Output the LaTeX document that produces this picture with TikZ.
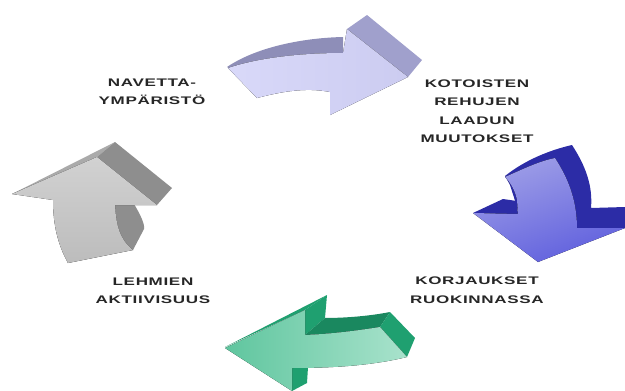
\documentclass[tikz,border=0pt]{standalone}
\usepackage{fontspec}
\newfontfamily\cyclefont{Liberation Sans}[FakeStretch=1.55,LetterSpace=6]
\definecolor{lilaface}{HTML}{D2D2F8}
\definecolor{lilaband}{HTML}{8E8EB8}
\definecolor{lilaside}{HTML}{A0A0CC}
\definecolor{blueface}{HTML}{6A6ADA}
\definecolor{bluedark}{HTML}{2C2CA6}
\definecolor{greenface}{HTML}{6FCFAA}
\definecolor{greendark}{HTML}{1FA070}
\definecolor{greyface}{HTML}{C6C6C6}
\definecolor{greydark}{HTML}{8E8E8E}

\begin{document}
\begin{tikzpicture}[x=1pt,y=-1pt, every node/.style={font=\cyclefont\bfseries\fontsize{11}{18.5}\selectfont, align=center, text=black!85}]
\useasboundingbox (0,0) rectangle (625,391);
% top arrow
\fill[lilaband] (227,67) .. controls (255,48) and (300,38) .. (343,37) -- (343,53) .. controls (300,53) and (258,58) .. (229,68) -- cycle;
\fill[lilaside] (347,29) -- (367,15) -- (422,60) -- (408,77) -- cycle;
\fill[left color=lilaface!85!white, right color=lilaface!97!black] (228,68) .. controls (258,58) and (300,53) .. (343,53) -- (347,29) -- (408,77) -- (330,115) -- (330,92) .. controls (305,87) and (280,92) .. (257,98) -- cycle;
% right arrow
\fill[bluedark] (505,176) .. controls (525,160) and (550,150) .. (572,145) .. controls (585,165) and (593,185) .. (591,208) -- (625,207) -- (625,228) -- (540,240) -- (518,210) -- (510,185) -- cycle;
\fill[bluedark] (473,213) -- (503,199) -- (517,201) -- (518,215) -- cycle;
\fill[top color=blueface!65!white, bottom color=blueface!90!blue, shading angle=20] (505,177) .. controls (525,168) and (540,161) .. (555,158) .. controls (568,178) and (577,200) .. (577,228) -- (625,228) -- (538,262) -- (473,213) -- (518,214) -- (517,200) .. controls (515,190) and (510,182) .. (505,177) -- cycle;
% bottom arrow
\fill[greendark] (225,347) -- (327,295) -- (305,310) -- cycle;
\fill[greendark] (305,310) -- (327,295) -- (325,318) -- (305,335) -- cycle;
\fill[greendark!85!black] (305,335) -- (325,318) .. controls (345,318) and (370,316) .. (390,312) -- (380,327) .. controls (355,331) and (330,334) .. (305,335) -- cycle;
\fill[greendark] (390,312) -- (415,338) -- (407,357) -- (380,327) -- cycle;
\fill[greendark] (292,368) -- (308,367) -- (307,383) -- (292,391) -- cycle;
\fill[left color=greenface!80!greendark, right color=greenface!60!white] (225,348) -- (305,310) -- (305,335) .. controls (330,334) and (355,331) .. (380,327) -- (407,357) .. controls (370,366) and (330,368) .. (292,368) -- (292,391) -- cycle;
% left arrow
\fill[greydark!75!white] (12,194) -- (115,142) -- (97,157) -- cycle;
\fill[greydark] (115,142) -- (172,188) -- (157,205) -- (97,157) -- cycle;
\fill[greydark] (115,205) -- (134,204) .. controls (140,214) and (145,224) .. (144,229) -- (133,250) .. controls (120,240) and (116,225) .. (115,205) -- cycle;
\fill[top color=greyface!80!white, bottom color=greyface!95!black] (12,194) -- (97,157) -- (157,205) -- (115,205) .. controls (116,225) and (120,240) .. (133,250) -- (68,263) .. controls (58,245) and (53,225) .. (53,200) -- cycle;
% labels
\node (navetta) at (152,92) {NAVETTA-\\YMPÄRISTÖ};
\node (rehut) at (477,111) {KOTOISTEN\\REHUJEN\\LAADUN\\MUUTOKSET};
\node (ruokinta) at (477,290) {KORJAUKSET\\RUOKINNASSA};
\node (aktiivisuus) at (153,291) {LEHMIEN\\AKTIIVISUUS};
\end{tikzpicture}
\end{document}
